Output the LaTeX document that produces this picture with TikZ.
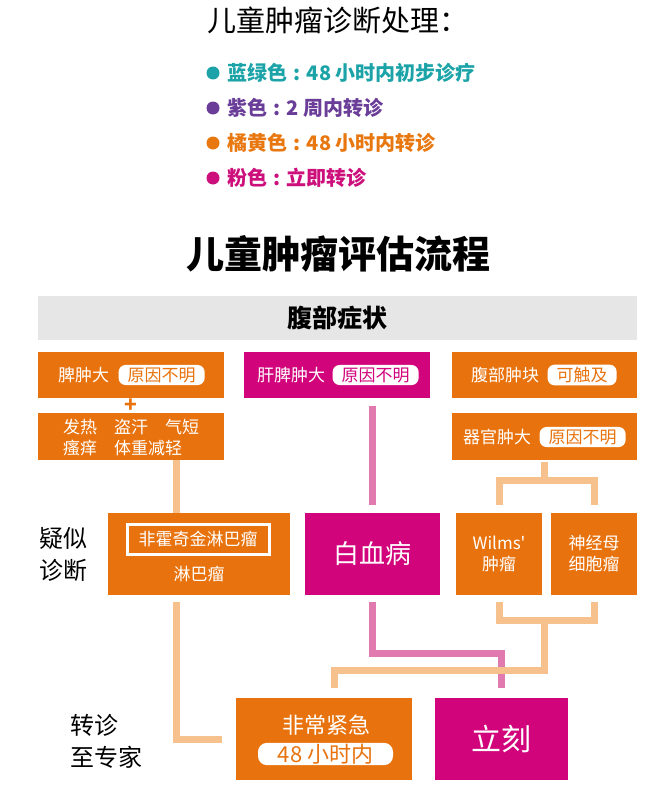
\documentclass[tikz,border=0pt]{standalone}
\usepackage{fontspec}
\setmainfont{Noto Sans CJK SC}
\usetikzlibrary{positioning}

\definecolor{orng}{HTML}{E8730E}
\definecolor{magc}{HTML}{D2047C}
\definecolor{lorng}{HTML}{F6C18D}
\definecolor{lpink}{HTML}{E07AAF}
\definecolor{barc}{HTML}{E6E6E6}
\definecolor{tealc}{HTML}{1BA3A8}
\definecolor{purpc}{HTML}{6A3D98}
\definecolor{legor}{HTML}{E8770F}
\definecolor{legmag}{HTML}{CC0F7B}

\newcommand{\fsz}[1]{\fontsize{#1}{#1}\selectfont}
\newcommand{\sep}{\hspace{0.3em}:\hspace{0.3em}}

\tikzset{
  obox/.style={fill=orng, inner sep=0pt, minimum height=46},
  mbox/.style={fill=magc, inner sep=0pt, minimum height=46},
  lbl/.style={text=white, font=\fsz{17}, inner sep=0pt},
  pill/.style={fill=white, rounded corners=7pt, inner xsep=9pt, inner ysep=2.5pt, font=\fsz{17}},
  dot/.style={circle, minimum size=13, inner sep=0pt},
  legend/.style={inner sep=0pt, anchor=west, font=\bfseries\fsz{20}},
  side/.style={inner sep=0pt, anchor=west, align=left, font=\fontsize{24}{32}\selectfont},
  oline/.style={draw=lorng, line width=7pt},
  pline/.style={draw=lpink, line width=7pt}
}

\begin{document}
\begin{tikzpicture}[x=1pt, y=-1pt]
    \useasboundingbox (0,0) rectangle (664,800);

    % title and colour key
    \node[inner sep=0pt, anchor=west, font=\fsz{29}] (title) at (207,20) {儿童肿瘤诊断处理：};
    \node[dot, fill=tealc] (dot1) at (213,73) {};
    \node[legend, text=tealc, right=8pt of dot1]  (leg1) {蓝绿色\sep 48 小时内初步诊疗};
    \node[dot, fill=purpc] (dot2) at (213,108) {};
    \node[legend, text=purpc, right=8pt of dot2]  (leg2) {紫色\sep 2 周内转诊};
    \node[dot, fill=legor] (dot3) at (213,143) {};
    \node[legend, text=legor, right=8pt of dot3]  (leg3) {橘黄色\sep 48 小时内转诊};
    \node[dot, fill=legmag] (dot4) at (213,178) {};
    \node[legend, text=legmag, right=8pt of dot4] (leg4) {粉色\sep 立即转诊};

    \node[font=\bfseries\fsz{38}] (flow) at (338,254) {儿童肿瘤评估流程};
    \node[fill=barc, minimum width=599, minimum height=44, font=\bfseries\fsz{25}] (abd) at (337.5,318) {腹部症状};

    % first row
    \node[obox, minimum width=186] (spleen) at (130.5,375) {};
    \node[lbl, anchor=west] (spleent) at (58,375) {脾肿大};
    \node[pill, text=orng, right=9pt of spleent] (spleenp) {原因不明};
    \node[mbox, minimum width=186] (liver) at (337,375) {};
    \node[lbl, anchor=west] (livert) at (257,375) {肝脾肿大};
    \node[pill, text=magc, right=7pt of livert] (liverp) {原因不明};
    \node[obox, minimum width=185] (mass) at (544.5,375) {};
    \node[lbl, anchor=west] (masst) at (471,375) {腹部肿块};
    \node[pill, text=orng, right=8pt of masst] (massp) {可触及};

    % second row
    \node[text=orng, font=\bfseries\fsz{21}, inner sep=0pt] (plus) at (131,406) {+};
    \node[obox, minimum width=186, minimum height=47] (sym) at (130.5,436.5) {};
    \node[lbl, anchor=west, align=left, font=\fontsize{17}{21}\selectfont] (symt) at (63,437.5)
        {发热\quad 盗汗\quad 气短\\瘙痒\quad 体重减轻};
    \node[obox, minimum width=185, minimum height=47] (organ) at (544.5,436.5) {};
    \node[lbl, anchor=west] (organt) at (463,437) {器官肿大};
    \node[pill, text=orng, right=8pt of organt] (organp) {原因不明};

    % suspected diagnosis
    \node[side] (susp) at (39,554) {疑似\\诊断};
    \node[obox, minimum width=182, minimum height=82] (lym) at (199,554) {};
    \node[lbl, draw=white, line width=3pt, minimum width=142, minimum height=30] (nhl) at (198,539) {非霍奇金淋巴瘤};
    \node[lbl] (lymt) at (199,574) {淋巴瘤};
    \node[mbox, minimum width=135, minimum height=82, text=white, font=\fsz{26}] (leuk) at (372.5,554) {白血病};
    \node[obox, minimum width=86, minimum height=82, text=white, align=center, font=\fontsize{17}{21}\selectfont] (wilms) at (499,554) {Wilms\textquotesingle\\肿瘤};
    \node[obox, minimum width=86, minimum height=82, text=white, align=center, font=\fontsize{17}{21}\selectfont] (neuro) at (594,554) {神经母\\细胞瘤};

    % referral
    \node[side] (refer) at (70,741) {转诊\\至专家};
    \node[obox, minimum width=176, minimum height=82] (urgent) at (324,739) {};
    \node[lbl, font=\fsz{22}] (urgentt) at (326.5,725) {非常紧急};
    \node[pill, text=orng, font=\fsz{22}, minimum width=135, inner ysep=1pt, rounded corners=9pt] (urgentp) at (325.5,754) {48 小时内};
    \node[mbox, minimum width=133, minimum height=82, text=white, font=\fsz{30}] (now) at (501.5,739) {立刻};

    % connectors
    \coordinate (lx) at (176,0);
    \coordinate (pturn) at (501.5,653);
    \coordinate (fork1) at (544.5,480);
    \coordinate (fork2) at (544.5,620);
    \coordinate (fork3) at (334,670);

    \draw[oline] (sym.south -| lx) -- (lym.north -| lx);
    \draw[oline, shorten <=7pt, shorten >=14pt] (lym.south -| lx) |- (urgent.west);
    \draw[pline, shorten <=8pt, shorten >=8pt] (liver.south -| leuk.north) -- (leuk.north);
    \draw[pline, shorten <=7pt, shorten >=10pt] (leuk.south) |- (pturn) -- (now.north);
    \draw[oline, shorten <=2pt] (organ.south) -- (fork1);
    \draw[oline, shorten <=8pt, shorten >=8pt] (wilms.north) |- (fork1) -| (neuro.north);
    \draw[oline, shorten <=7pt, shorten >=7pt] (wilms.south) |- (fork2) -| (neuro.south);
    \draw[oline, shorten >=10pt] (fork2) |- (fork3) -- (fork3 |- urgent.north);
\end{tikzpicture}
\end{document}
